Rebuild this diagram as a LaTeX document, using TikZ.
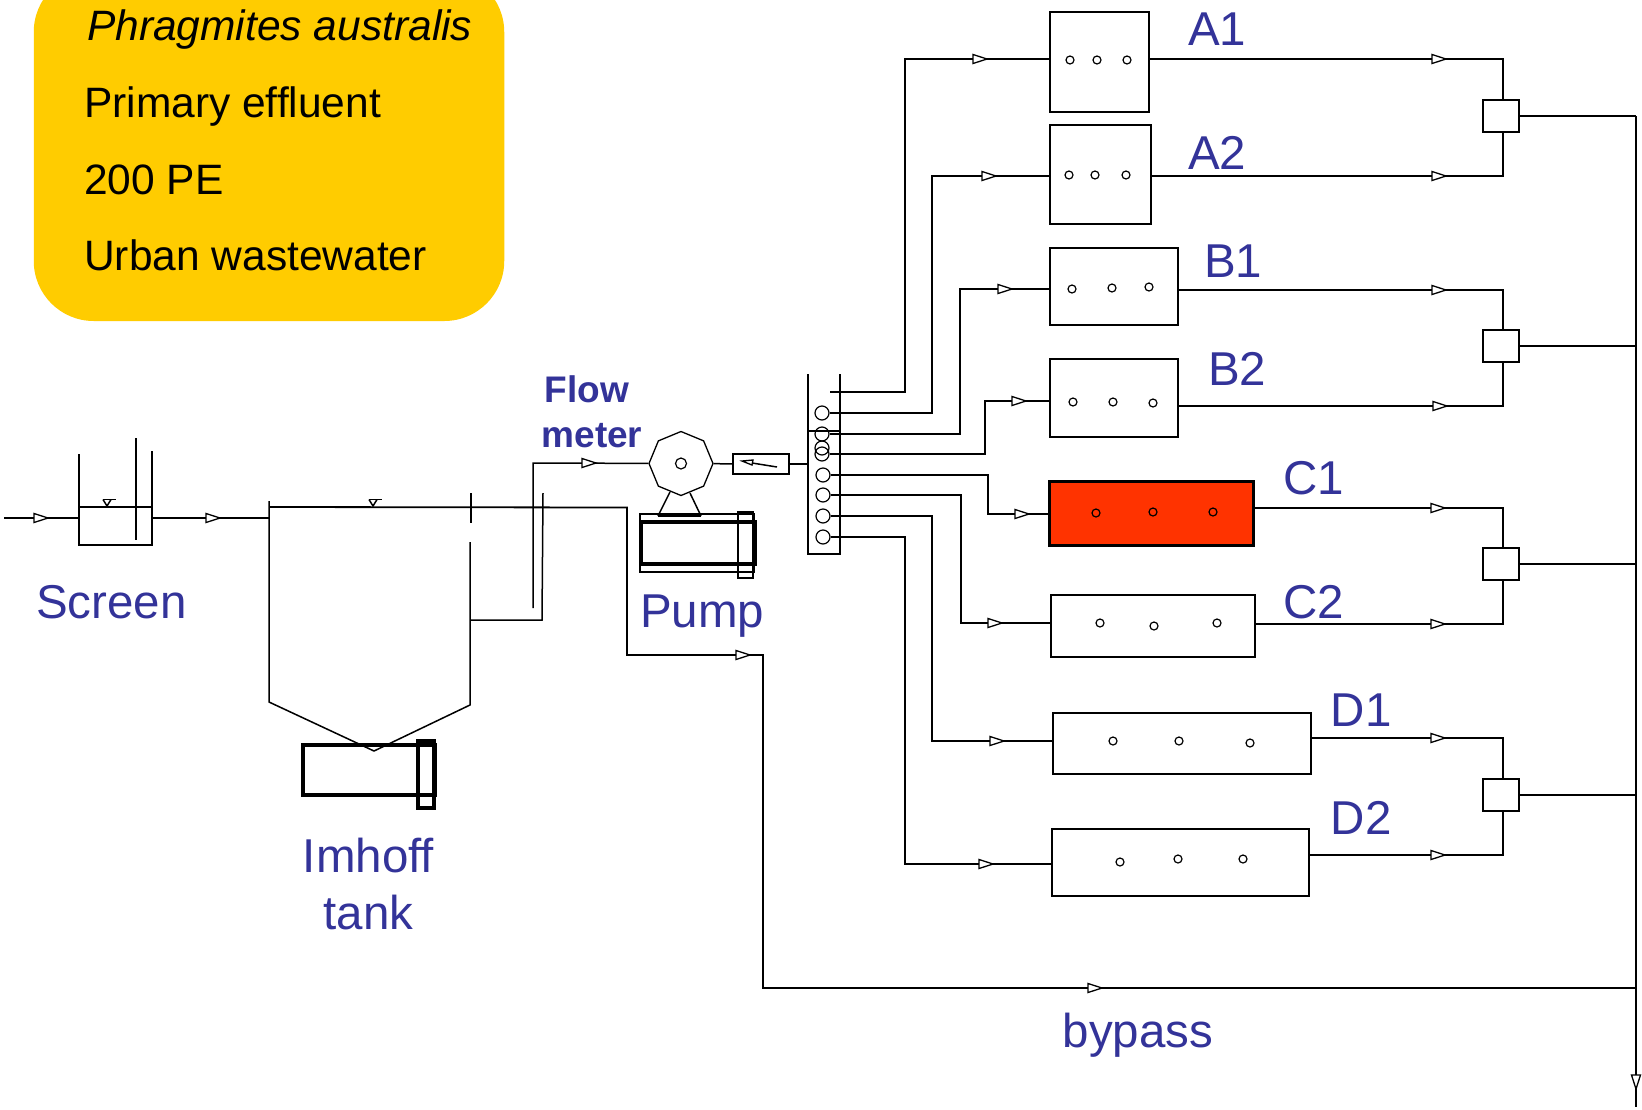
\documentclass[tikz,border=0pt]{standalone}
\usepackage{fontspec}
\setmainfont{Liberation Sans}
\definecolor{wwblue}{RGB}{51,51,153}
\definecolor{wwyellow}{RGB}{255,204,0}
\definecolor{wwred}{RGB}{255,51,0}
\usetikzlibrary{positioning,shapes.geometric}
\tikzset{
  pipe/.style={line width=1.5pt},
  bedbox/.style={draw,line width=1.4pt,inner sep=0pt},
  collbox/.style={draw,line width=1.5pt,inner sep=0pt,minimum width=36pt,minimum height=32pt},
  pore/.style={draw,circle,line width=1.2pt,inner sep=0pt,minimum size=8pt},
  valve/.style={draw,circle,line width=1.2pt,inner sep=0pt,minimum size=14pt},
  flowtip/.style={line width=1.3pt,fill=white},
  tanklabel/.style={wwblue,font=\fontsize{47.5}{48}\selectfont,anchor=base west,inner sep=0pt},
  infotext/.style={font=\fontsize{42.5}{42.5}\selectfont,anchor=base west,inner sep=0pt},
  metertext/.style={wwblue,font=\fontsize{37}{37}\selectfont\bfseries,anchor=base,inner sep=0pt}
}
\begin{document}
\begin{tikzpicture}[x=1pt,y=-1pt]
  \clip (0,0) rectangle (1642,1109);
  \fill[white] (0,0) rectangle (1642,1109);
  \node[fill=wwyellow,rounded corners=60pt,inner sep=0pt,minimum width=470.5pt,minimum height=349pt] (legend) at (269,146.5) {};
  \node[infotext,font=\fontsize{42.5}{42.5}\selectfont\itshape] (species) at (87,40) {Phragmites australis};
  \node[infotext] (effluent) at (84,117) {Primary effluent};
  \node[infotext] (size) at (84,194) {200 PE};
  \node[infotext] (water) at (84,270) {Urban wastewater};

  \node[bedbox,minimum width=99pt,minimum height=100pt] (A1) at (1099.5,62) {};
  \node[bedbox,minimum width=101pt,minimum height=99pt] (A2) at (1100.5,174.5) {};
  \node[bedbox,minimum width=128pt,minimum height=77pt] (B1) at (1114,286.5) {};
  \node[bedbox,minimum width=128pt,minimum height=78pt] (B2) at (1114,398) {};
  \node[draw,fill=wwred,line width=3pt,inner sep=0pt,minimum width=204pt,minimum height=64pt] (C1) at (1151,513) {};
  \node[bedbox,minimum width=204pt,minimum height=62pt] (C2) at (1153,626) {};
  \node[bedbox,minimum width=258pt,minimum height=61pt] (D1) at (1182,743.5) {};
  \node[bedbox,minimum width=257pt,minimum height=67pt] (D2) at (1180.5,862.5) {};
  \foreach \i/\x/\y in {1/1070/60,2/1097/60,3/1127/60,4/1069/175,5/1095/175,6/1126/175,7/1072/289,8/1112/288,9/1149/287,10/1073/402,11/1113/402,12/1153/403,13/1096/513,14/1153/512,15/1213/512,16/1100/623,17/1154/626,18/1217/623,19/1113/741,20/1179/741,21/1250/743,22/1120/862,23/1178/859,24/1243/859}
    \node[pore] (pore\i) at (\x,\y) {};

  \node[tanklabel] (labA1) at (1188,45) {A1};
  \node[tanklabel] (labA2) at (1188,169) {A2};
  \node[tanklabel] (labB1) at (1204,277) {B1};
  \node[tanklabel] (labB2) at (1208,385) {B2};
  \node[tanklabel] (labC1) at (1283,494) {C1};
  \node[tanklabel] (labC2) at (1283,618) {C2};
  \node[tanklabel] (labD1) at (1330.5,726) {D1};
  \node[tanklabel] (labD2) at (1330.5,834) {D2};
  \node[tanklabel] (labscreen) at (36,618) {Screen};
  \node[tanklabel] (labpump) at (640,627.5) {Pump};
  \node[tanklabel,anchor=base] (labimhoff) at (368.5,872) {Imhoff};
  \node[tanklabel,anchor=base] (labtank) at (368.5,929) {tank};
  \node[tanklabel] (labbypass) at (1062.5,1047) {bypass};
  \node[metertext] (labflow) at (587,402) {Flow};
  \node[metertext] (labmeter) at (592,447) {meter};

  \node[collbox] (collA) at (1501,116) {};
  \node[collbox] (collB) at (1501,346) {};
  \node[collbox] (collC) at (1501,564) {};
  \node[collbox] (collD) at (1501,795) {};
  \coordinate (main) at (1636,116);
  \foreach \name/\y/\coll in {A1/59/collA,A2/176/collA,B1/290/collB,B2/406/collB,C1/508/collC,C2/624/collC,D1/738/collD,D2/855/collD} {
    \coordinate (corner\name) at (1503,\y);
    \draw[pipe] (corner\name -| \name.east) -- (corner\name) -- (corner\name |- \coll.center);
  }
  \foreach \coll in {collA,collB,collC,collD} {
    \draw[pipe] (\coll.east) -- (\coll.east -| main);
    \node[collbox,fill=white] at (\coll) {};
  }

  \node[valve] (valveA2) at (822,413) {};
  \node[valve] (valveB1) at (822,434) {};
  \node[valve] (valveX) at (822,448) {};
  \node[valve] (valveB2) at (822,454) {};
  \node[valve] (valveC1) at (823,475) {};
  \node[valve] (valveC2) at (823,495) {};
  \node[valve] (valveD1) at (823,516) {};
  \node[valve] (valveD2) at (823,537) {};
  \coordinate (overflow) at (830,392);
  \draw[pipe] (overflow) -- (905,392) |- (A1.west |- 0,59);
  \foreach \name/\x/\y in {A2/932/176,B1/960/289,B2/985/401,C1/988/514,C2/961/623,D1/932/741,D2/905/864}
    \draw[pipe] (valve\name.east) -| (\x,\y) -- (\name.west |- 0,\y);
  \draw[pipe] (808,374) -- (808,554) -- (840,554) -- (840,374);
  \draw[pipe] (808,431) -- (840,431);

  \coordinate (inlet) at (4,518);
  \coordinate (screenin) at (79,518);
  \coordinate (screenout) at (152,518);
  \coordinate (imhoffin) at (269,518);
  \draw[pipe] (inlet) -- (screenin);
  \draw[pipe] (screenout) -- (imhoffin);
  \draw[pipe] (79,454) -- (79,545) -- (152,545) -- (152,451);
  \draw[pipe] (79,507) -- (152,507);
  \draw[pipe] (136,438) -- (136,540);
  \draw[pipe] (269,501) -- (269,702) -- (374,751) -- (470,705) -- (470,542);
  \draw[pipe] (471,493) -- (471,523);
  \draw[pipe,line width=1.8pt] (269,507) -- (627,507.5) -- (627,655) -- (763,655) -- (763,988) -- (1636,988);
  \draw[pipe] (471,620) -- (542,620) -- (543,493);
  \foreach \x in {103,369} {
    \draw[pipe] (\x,499.5) -- (\x+12.5,499.5);
    \draw[pipe] (\x,499.5) -- (\x+4,506) -- (\x+8,499.5);
  }

  \node[draw,regular polygon,regular polygon sides=8,shape border rotate=22.5,line width=1.3pt,inner sep=0pt,minimum size=64pt] (pump) at (681,463.5) {};
  \node[draw,circle,line width=1.2pt,inner sep=0pt,minimum size=11pt] (rotor) at (681,463.5) {};
  \draw[pipe] (533,608) -- (533,463) -- (pump);
  \draw[pipe] (670,492) -- (658,516);
  \draw[pipe] (690,493) -- (701,516);
  \draw[line width=2.5pt] (658,515.5) -- (701,515.5);
  \draw[line width=1.6pt] (640,514) rectangle (754,572);
  \draw[line width=3.2pt] (641,522) rectangle (755,564);
  \draw[line width=2.5pt] (738,512) rectangle (753,578);
  \node[draw,line width=1.3pt,inner sep=0pt,minimum width=56pt,minimum height=20pt] (meter) at (761,464) {};
  \draw[pipe] (pump) -- (meter);
  \draw[pipe] (meter) -- (807,464);
  \draw[pipe] (777,467) -- (752,463);
  \draw[flowtip] (742,461) -- (753,460) -- (752,465) -- cycle;

  \draw[line width=3.2pt] (303,745) rectangle (435,795);
  \draw[line width=3.2pt] (418,741) rectangle (434,808);

  \draw[pipe] (main) -- (1636,1107);
  \foreach \x/\y in {48/518,220/518,596/463,750/655,1102/988,987/59,996/176,1012/289,1026/401,1029/514,1002/623,1004/741,993/864,1446/59,1446/176,1446/290,1447/406,1445/508,1445/624,1445/738,1445/855}
    \draw[flowtip,shift={(\x,\y)}] (-14,-4.5) -- (0,0) -- (-14,4.5) -- cycle;
  \draw[flowtip,shift={(1636,1089)}] (-4.5,-14) -- (0,0) -- (4.5,-14) -- cycle;
\end{tikzpicture}
\end{document}
